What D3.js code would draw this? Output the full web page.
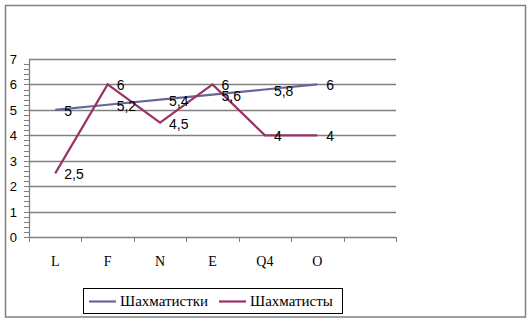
<!DOCTYPE html>
<html>
<head>
<meta charset="UTF-8">
<style>
  body { margin: 0; padding: 0; background: white; }
  .ytick { font: 13px "Liberation Sans", Arial, sans-serif; }
  .xtick { font: 14px "Liberation Serif", "Times New Roman", serif; }
  .dlabel { font: 14px "Liberation Sans", Arial, sans-serif; }
  .legend { font: 15px "Liberation Serif", "Times New Roman", serif; }
</style>
</head>
<body>
<script src="https://cdn.jsdelivr.net/npm/d3@7"></script>
<script>
var categories = ['L', 'F', 'N', 'E', 'Q4', 'O', ''];
var seriesNames = ['Шахматистки', 'Шахматисты'];
var girls = [5, 5.2, 5.4, 5.6, 5.8, 6];
var boys = [2.5, 6, 4.5, 6, 4, 4];
var yTicks = [0, 1, 2, 3, 4, 5, 6, 7];
var colors = ['#666699', '#993366'];

var W = 532, H = 323;
var plot = { left: 29, right: 396, top: 59, bottom: 237 };

var svg = d3.select('body').append('svg')
    .attr('width', W)
    .attr('height', H);

// outer frame
svg.append('rect')
    .attr('x', 5.5).attr('y', 5.5)
    .attr('width', 520).attr('height', 311.5)
    .attr('fill', 'none')
    .attr('stroke', '#808080')
    .attr('stroke-width', 1.5);

var x = d3.scaleBand()
    .domain(categories.map(function(d, i) { return i; }))
    .range([plot.left, plot.right]);

var y = d3.scaleLinear()
    .domain([0, 7])
    .range([plot.bottom, plot.top]);

// gridlines
svg.append('g').selectAll('line')
    .data(yTicks.slice(1))
    .enter().append('line')
    .attr('x1', plot.left).attr('x2', plot.right)
    .attr('y1', function(d) { return Math.round(y(d)) + 0.5; })
    .attr('y2', function(d) { return Math.round(y(d)) + 0.5; })
    .attr('stroke', '#808080')
    .attr('stroke-width', 1.3);

// y axis with minor ticks
var minor = d3.range(0, 35).map(function(i) { return i / 5; });
svg.append('g').selectAll('line')
    .data(minor)
    .enter().append('line')
    .attr('x1', plot.left - 5).attr('x2', plot.left)
    .attr('y1', function(d) { return Math.round(y(d)) + 0.5; })
    .attr('y2', function(d) { return Math.round(y(d)) + 0.5; })
    .attr('stroke', '#808080')
    .attr('stroke-width', 1);

svg.append('line')
    .attr('x1', plot.left + 0.5).attr('x2', plot.left + 0.5)
    .attr('y1', plot.top).attr('y2', plot.bottom)
    .attr('stroke', '#808080')
    .attr('stroke-width', 1.3);

svg.append('g').selectAll('text')
    .data(yTicks)
    .enter().append('text')
    .attr('class', 'ytick')
    .attr('x', 17)
    .attr('y', function(d) { return y(d) + 5; })
    .attr('text-anchor', 'end')
    .text(function(d) { return d; });

// x axis
svg.append('line')
    .attr('x1', plot.left).attr('x2', plot.right)
    .attr('y1', plot.bottom + 0.5).attr('y2', plot.bottom + 0.5)
    .attr('stroke', '#808080')
    .attr('stroke-width', 1.3);

var xt = categories.map(function(d, i) { return i; }).concat([categories.length]);
svg.append('g').selectAll('line')
    .data(xt)
    .enter().append('line')
    .attr('x1', function(d) { return Math.round(plot.left + d * x.bandwidth()) + 0.5; })
    .attr('x2', function(d) { return Math.round(plot.left + d * x.bandwidth()) + 0.5; })
    .attr('y1', plot.bottom).attr('y2', plot.bottom + 5)
    .attr('stroke', '#808080')
    .attr('stroke-width', 1);

svg.append('g').selectAll('text')
    .data(categories)
    .enter().append('text')
    .attr('class', 'xtick')
    .attr('x', function(d, i) { return x(i) + x.bandwidth() / 2; })
    .attr('y', 266)
    .attr('text-anchor', 'middle')
    .text(function(d) { return d; });

// lines
var line = d3.line()
    .x(function(d, i) { return x(i) + x.bandwidth() / 2; })
    .y(function(d) { return y(d); });

[girls, boys].forEach(function(s, k) {
    svg.append('path')
        .datum(s)
        .attr('d', line)
        .attr('fill', 'none')
        .attr('stroke', colors[k])
        .attr('stroke-width', 2.2);
});

// data labels (decimal comma)
[girls, boys].forEach(function(s) {
    svg.append('g').selectAll('text')
        .data(s)
        .enter().append('text')
        .attr('class', 'dlabel')
        .attr('x', function(d, i) { return x(i) + x.bandwidth() / 2 + 9; })
        .attr('y', function(d) { return y(d) + 6; })
        .text(function(d) { return String(d).replace('.', ','); });
});

// legend
var lg = svg.append('g');
lg.append('rect')
    .attr('x', 83.5).attr('y', 288.5)
    .attr('width', 259).attr('height', 25)
    .attr('fill', 'white')
    .attr('stroke', 'black')
    .attr('stroke-width', 1);

var legendX = [89, 219];
seriesNames.forEach(function(name, k) {
    lg.append('line')
        .attr('x1', legendX[k]).attr('x2', legendX[k] + 27)
        .attr('y1', 301.5).attr('y2', 301.5)
        .attr('stroke', colors[k])
        .attr('stroke-width', 2.2);
    lg.append('text')
        .attr('class', 'legend')
        .attr('x', legendX[k] + 31)
        .attr('y', 306)
        .text(name);
});
</script>
</body>
</html>
